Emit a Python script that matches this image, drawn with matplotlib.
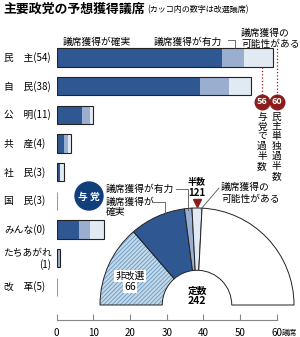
import matplotlib
matplotlib.use('Agg')
import matplotlib.pyplot as plt
from matplotlib.patches import Wedge, Circle
from matplotlib.transforms import blended_transform_factory

plt.rcParams['font.family'] = ['Noto Sans CJK JP', 'DejaVu Sans']
plt.rcParams['hatch.linewidth'] = 0.6

# party bars
parties = ['民　主(54)', '自　民(38)', '公　明(11)', '共　産(4)', '社　民(3)',
           '国　民(3)', 'みんな(0)', 'たちあがれ', '改　革(5)']
certain = [45, 39, 7, 2, 1, 0, 6, 0, 0]
likely = [6, 8, 2, 1, 0, 0, 3, 1, 0]
possible = [8, 6, 1, 1, 1, 0, 4, 0, 0]
xticks = [0, 10, 20, 30, 40, 50, 60]
marks = [56, 60]
mark_notes = ['与党で過半数', '民主単独過半数']

# upper house semicircle (ruling coalition)
seat_total = 242
half = 121
coalition = [66, 45, 6, 8]   # 非改選, 確実, 有力, 可能性

DARK = '#2f5892'
MID = '#9aafd0'
LIGHT = '#e1e9f2'
RED = '#8c1c1c'
NAVY = '#123f7c'

W, H = 300, 337
fig = plt.figure(figsize=(3, 3.37), dpi=100)


def fx(x):
    return x / W


def fy(y):
    return 1 - y / H


ax = fig.add_axes([fx(56.7), fy(320), 220 / W, 282.6 / H])
ax.patch.set_alpha(0)
ys = list(range(len(parties)))
left2 = [a + b for a, b in zip(certain, likely)]
totals = [a + b for a, b in zip(left2, possible)]
ax.barh(ys, certain, height=0.64, color=DARK, lw=0)
ax.barh(ys, likely, left=certain, height=0.64, color=MID, lw=0)
ax.barh(ys, possible, left=left2, height=0.64, color=LIGHT, lw=0)
for yy, t in zip(ys, totals):
    ax.barh(yy, t, height=0.64, fill=False,
            edgecolor='#222222' if t > 0 else '#999999', lw=0.8)

ax.set_xlim(0, 60)
ax.set_ylim(9.15, -0.7)
for s in ['top', 'left', 'right']:
    ax.spines[s].set_visible(False)
ax.spines['bottom'].set_color('#888888')
ax.spines['bottom'].set_bounds(0, 60)
ax.set_yticks([])
ax.set_xticks(xticks)
ax.tick_params(axis='x', direction='in', length=4, color='#888888',
               pad=6, labelsize=7)

# row labels
tr = blended_transform_factory(fig.transFigure, ax.transData)
for yy, name in zip(ys, parties):
    if name == 'たちあがれ':
        ax.text(fx(3), yy - 0.18, name, transform=tr, va='center', fontsize=7)
        ax.text(fx(51), yy + 0.2, '(1)', transform=tr, va='center',
                ha='right', fontsize=7)
    else:
        ax.text(fx(4), yy, name, transform=tr, va='center', fontsize=7)

# majority marks
ax.plot([marks[0]] * 2, [0.32, 1.3], ls=':', color=RED, lw=0.9, clip_on=False)
ax.plot([marks[1]] * 2, [-0.44, 1.3], ls=':', color=RED, lw=0.9, clip_on=False)
for m, note in zip(marks, mark_notes):
    ax.plot(m, 1.54, 'o', ms=10.5, color=RED, clip_on=False)
    ax.text(m, 1.55, str(m), color='white', fontsize=6.5, fontweight='bold',
            ha='center', va='center')
    for k, ch in enumerate(note):
        ax.text(m, 2.06 + k * 0.345, ch, ha='center', va='center', fontsize=7)

# semicircle
ax2 = fig.add_axes([fx(100), fy(305), 194 / W, 97 / H])
ax2.set_xlim(-1, 1)
ax2.set_ylim(0, 1)
ax2.axis('off')


def ang(s):
    return 180 - s / seat_total * 180


cum = [0]
for v in coalition:
    cum.append(cum[-1] + v)
cum.append(seat_total)
rin = 0.358
fills = ['#c3d9ea', DARK, MID, LIGHT, 'white']
for i in range(len(cum) - 1):
    if i == 0:
        w = Wedge((0, 0), 1, ang(cum[1]), ang(cum[0]), width=1 - rin,
                  facecolor=fills[0], edgecolor='#6a99bf', hatch='////////',
                  lw=0, clip_on=False)
        ax2.add_patch(w)
    w = Wedge((0, 0), 1, ang(cum[i + 1]), ang(cum[i]), width=1 - rin,
              facecolor='none' if i == 0 else fills[i],
              edgecolor='#222222', lw=0.7, clip_on=False)
    ax2.add_patch(w)
ax2.plot(0, 1.05, marker='v', ms=6, color=RED, clip_on=False)

# overlay for titles and callouts
ov = fig.add_axes([0, 0, 1, 1])
ov.set_xlim(0, W)
ov.set_ylim(H, 0)
ov.axis('off')

ov.text(3, 9, '主要政党の予想獲得議席', fontsize=9.3, fontweight='bold',
        va='center')
ov.text(147, 10, '(カッコ内の数字は改選議席)', fontsize=5.8, va='center')

ov.text(63, 41.5, '議席獲得が確実', fontsize=7, va='center')
ov.text(154, 41.5, '議席獲得が有力', fontsize=7, va='center')
ov.plot([228, 235, 235], [40, 40, 48], color='#555555', lw=0.6)
ov.text(241, 33, '議席獲得の', fontsize=7, va='center')
ov.text(241, 44, '可能性がある', fontsize=7, va='center')

ov.text(282, 332.5, '議席', fontsize=5.5, va='center', ha='left')

ov.add_patch(Circle((89, 196), 14, color=NAVY))
ov.text(89, 196.5, '与 党', color='white', fontsize=7, fontweight='bold',
        ha='center', va='center')
ov.text(106, 189, '議席獲得が有力', fontsize=7, va='center')
ov.plot([176, 188, 188], [189, 189, 210], color='#555555', lw=0.6)
ov.text(106, 201.5, '議席獲得が', fontsize=7, va='center')
ov.text(106, 212, '確実', fontsize=7, va='center')
ov.plot([152, 165, 165], [201.5, 201.5, 213], color='#555555', lw=0.6)
ov.text(196.5, 182, '半数', fontsize=6.5, fontweight='bold', ha='center',
        va='center')
ov.text(196.5, 193, str(half), fontsize=7, fontweight='bold', ha='center',
        va='center')
ov.text(221, 187, '議席獲得の', fontsize=7, va='center')
ov.text(221, 199, '可能性がある', fontsize=7, va='center')
ov.plot([219, 201], [188, 209], color='#555555', lw=0.6)

ov.text(130, 276, '非改選', fontsize=7, ha='center', va='center',
        bbox=dict(facecolor='white', edgecolor='none', pad=1))
ov.text(130, 287, str(coalition[0]), fontsize=7.5, ha='center', va='center',
        bbox=dict(facecolor='white', edgecolor='none', pad=0.5))
ov.text(197, 291, '定数', fontsize=7, fontweight='bold', ha='center',
        va='center')
ov.text(197, 301.5, str(seat_total), fontsize=7.5, fontweight='bold',
        ha='center', va='center')

fig.savefig('out.png', dpi=100)
